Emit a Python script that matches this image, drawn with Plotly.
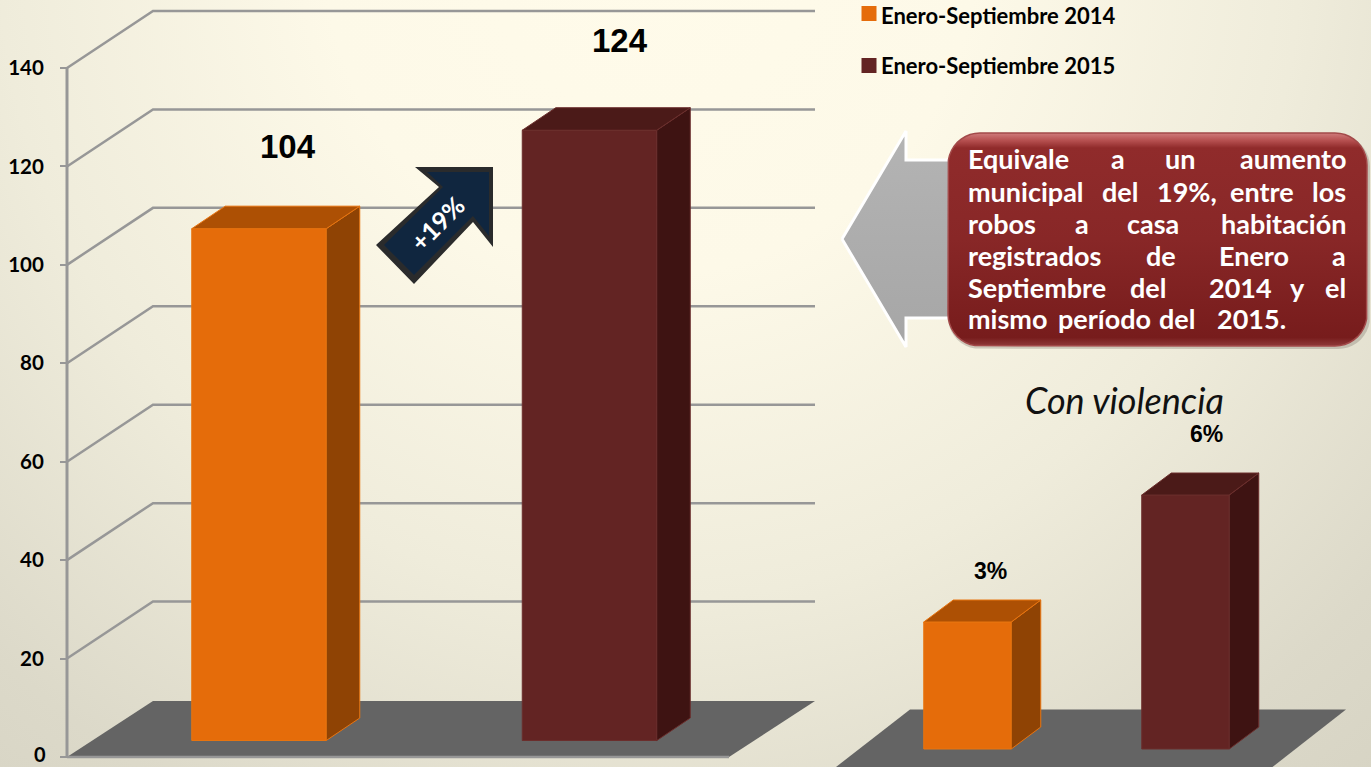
import math
import plotly.graph_objects as go

# ---- data ----
periodos = ["Enero-Septiembre 2014", "Enero-Septiembre 2015"]
robos = [104, 124]
violencia = [3, 6]
ticks_y = [0, 20, 40, 60, 80, 100, 120, 140]
titulo_chico = "Con violencia"
flecha_texto = "+19%"
callout = [
    [("Equivale", 966, "left"), ("a", 1109, "left"), ("un", 1163, "left"), ("aumento", 1348, "right")],
    [("municipal", 966, "left"), ("del", 1100, "left"), ("19%,", 1155, "left"), ("entre", 1228, "left"), ("los", 1348, "right")],
    [("robos", 966, "left"), ("a", 1073, "left"), ("casa", 1125, "left"), ("habitación", 1348, "right")],
    [("registrados", 966, "left"), ("de", 1144, "left"), ("Enero", 1217, "left"), ("a", 1348, "right")],
    [("Septiembre", 966, "left"), ("del", 1128, "left"), ("2014", 1207, "left"), ("y", 1288, "left"), ("el", 1348, "right")],
    [("mismo", 966, "left"), ("período", 1056, "left"), ("del", 1157, "left"), ("2015.", 1215, "left")],
]

# ---- styles ----
W, H = 1371, 767
ORANGE = ("#E56C0A", "#8F4304", "#AD5004", "#E8740F")
MAROON = ("#632423", "#3E1312", "#4B1A18", "#6B2E2C")
GRID = "#979797"
FLOOR = "#646464"
LATO = "Lato, Carlito, sans-serif"
ARIAL = "Liberation Sans, Arial, sans-serif"

# main chart scale: value -> pixel
M_PX = 98.43 / 20
m_range = [-10 / M_PX, 757 / M_PX]
M_STEP = 330.5
M_C0 = 259.0
m_x_range = [-M_C0 / M_STEP, (W - M_C0) / M_STEP]
def mx(px): return (px - M_C0) / M_STEP
M_WIDTH = 134.5 / M_STEP
M_BASE = 16.5 / M_PX
M_DX = 33.5 / M_STEP
M_DY = 22.5 / M_PX

# small chart scale
S_PX = 42.33
s_range = [-18 / S_PX, 749 / S_PX]
S_STEP = 218.0
S_C0 = 967.5
s_x_range = [-S_C0 / S_STEP, (W - S_C0) / S_STEP]
def sx(px): return (px - S_C0) / S_STEP
S_WIDTH = 87.5 / S_STEP
S_DX = 29.5 / S_STEP
S_DY = 22 / S_PX

fig = go.Figure()

def poly(xs, ys, xa, ya, color=None, line=None, lw=0, grad=None):
    kw = dict(x=list(xs) + [xs[0]], y=list(ys) + [ys[0]], xaxis=xa, yaxis=ya, mode="lines",
              fill="toself", hoverinfo="skip", showlegend=False,
              line=dict(color=line or "rgba(0,0,0,0)", width=lw))
    if grad:
        kw["fillgradient"] = grad
    else:
        kw["fillcolor"] = color
    fig.add_trace(go.Scatter(**kw))

def lines(xs, ys, xa, ya, color=GRID, lw=2.5):
    fig.add_trace(go.Scatter(x=xs, y=ys, xaxis=xa, yaxis=ya, mode="lines", hoverinfo="skip",
                             showlegend=False, line=dict(color=color, width=lw)))

# --- background (pixel subplot) ---
CX, CY, R = 650, -50, 1300
poly([CX - R, CX + R, CX + R, CX - R], [CY - R, CY - R, CY + R, CY + R], "x", "y",
     grad=dict(type="radial", colorscale=[[0, "#FFFBEA"], [0.25, "#FDF9E8"], [0.5, "#EFECDB"], [0.74, "#DCD9C9"], [1, "#D0CDBD"]]))

# --- main chart wall and floor ---
poly([mx(67), mx(153), mx(815), mx(729)], [0, 56 / M_PX, 56 / M_PX, 0], "x2", "y2", color=FLOOR)
for t in ticks_y:
    if t == 0:
        lines([mx(67), mx(729)], [0, 0], "x2", "y2")
        lines([mx(60), mx(67)], [t, t], "x2", "y2", lw=2)
        continue
    lines([mx(67), mx(153), mx(815)], [t, t + 57 / M_PX, t + 57 / M_PX], "x2", "y2")
lines([mx(67), mx(67)], [0, ticks_y[-1]], "x2", "y2", lw=3)

# --- main bars ---
for i, (name, v, c) in enumerate(zip(periodos, robos, (ORANGE, MAROON))):
    fig.add_trace(go.Bar(x=[i], y=[v], base=[M_BASE], width=M_WIDTH, name=name, xaxis="x3", yaxis="y3",
                         marker=dict(color=c[0], line=dict(color=c[3], width=1)), hoverinfo="skip", showlegend=False))
    l, r = i - M_WIDTH / 2, i + M_WIDTH / 2
    top = M_BASE + v
    poly([r, r + M_DX, r + M_DX, r], [M_BASE, M_BASE + M_DY, top + M_DY, top], "x3", "y3", color=c[1], line=c[3], lw=1)
    poly([l, r, r + M_DX, l + M_DX], [top, top, top + M_DY, top + M_DY], "x3", "y3", color=c[2], line=c[3], lw=1)

# --- small chart floor ---
poly([sx(836), sx(910), sx(1346), sx(1272.5)], [-18 / S_PX, 39.5 / S_PX, 39.5 / S_PX, -18 / S_PX], "x4", "y4", color=FLOOR)

# --- small bars ---
for i, (name, v, c) in enumerate(zip(periodos, violencia, (ORANGE, MAROON))):
    fig.add_trace(go.Bar(x=[i], y=[v], width=S_WIDTH, name=name, xaxis="x5", yaxis="y5",
                         marker=dict(color=c[0], line=dict(color=c[3], width=1)), hoverinfo="skip", showlegend=False))
    l, r = i - S_WIDTH / 2, i + S_WIDTH / 2
    poly([r, r + S_DX, r + S_DX, r], [0, S_DY, v + S_DY, v], "x5", "y5", color=c[1], line=c[3], lw=1)
    poly([l, r, r + S_DX, l + S_DX], [v, v, v + S_DY, v + S_DY], "x5", "y5", color=c[2], line=c[3], lw=1)

# --- overlays in pixel coordinates ---
# navy arrow
poly([376, 414, 473, 493, 493, 415, 439], [245, 284, 222, 247, 167, 167, 187], "x6", "y6", color="#2A2B2C")
poly([384, 414, 473, 489, 489, 427, 443], [245, 275, 216, 236, 172, 172, 187], "x6", "y6", color="#10263F")

# left arrow
poly([842, 906, 906, 975, 975, 906, 906], [239, 131, 160, 160, 318, 318, 347], "x6", "y6",
     line="#FFFFFF", lw=3,
     grad=dict(type="vertical", start=131, stop=347, colorscale=[[0, "#B4B4B4"], [1, "#A6A6A6"]]))

def rrect(x0, y0, x1, y1, r, n=10):
    xs, ys = [], []
    for cx, cy, a0 in ((x1 - r, y0 + r, -90), (x1 - r, y1 - r, 0), (x0 + r, y1 - r, 90), (x0 + r, y0 + r, 180)):
        for k in range(n + 1):
            a = math.radians(a0 + 90 * k / n)
            xs.append(cx + r * math.cos(a))
            ys.append(cy + r * math.sin(a))
    return xs, ys

# callout with shadow and bevel
xs, ys = rrect(948, 135, 1370, 349, 32)
poly(xs, ys, "x6", "y6", color="rgba(90,80,70,0.25)")
xs, ys = rrect(948, 133, 1367, 346, 32)
poly(xs, ys, "x6", "y6", line="#A34A4A", lw=1.5,
     grad=dict(type="vertical", start=133, stop=346,
               colorscale=[[0, "#D07C7C"], [0.035, "#B65050"], [0.07, "#902B2B"], [0.5, "#882727"], [0.96, "#771C1C"], [1, "#8F3A3A"]]))

# legend swatches
fig.add_trace(go.Scatter(x=[869, 869], y=[13.5, 65.5], xaxis="x6", yaxis="y6", mode="markers", hoverinfo="skip",
                         showlegend=False, marker=dict(symbol="square", size=15, color=[ORANGE[0], MAROON[0]], line=dict(width=0))))

# --- annotations ---
ann = []
def px_text(text, x, y, size, color="#000000", family=LATO, weight=700, anchor="center", style="normal", angle=0):
    ann.append(dict(text=text, x=x / W, y=1 - y / H, xref="paper", yref="paper", showarrow=False,
                    xanchor=anchor, yanchor="middle", textangle=angle,
                    font=dict(size=size, color=color, family=family, weight=weight, style=style)))

for i, v in enumerate(robos):
    ann.append(dict(text=str(v), x=[mx(288), mx(620)][i], y=M_BASE + v + [16.6, 18.2][i], xref="x3", yref="y3",
                    showarrow=False, xanchor="center", yanchor="middle",
                    font=dict(size=33, color="#000000", family=ARIAL, weight=700)))
for i, v in enumerate(violencia):
    ann.append(dict(text=f"{v}%", x=[sx(990.5), sx(1206)][i], y=v + [1.2, 1.43][i], xref="x5", yref="y5",
                    showarrow=False, xanchor="center", yanchor="middle",
                    font=dict(size=23, color="#000000", family=ARIAL, weight=700)))

for name, y in zip(periodos, (15, 66)):
    px_text(name, 879, y, 22, anchor="left")
px_text(titulo_chico, 1124, 400, 36, family=LATO, weight=400, style="italic", color="#111111")
px_text(flecha_texto, 437, 223, 25, color="#FFFFFF", angle=-45)
for row, y in zip(callout, (158, 191, 223, 255, 287, 319)):
    for word, x, a in row:
        px_text(word, x, y, 27, color="#FFFFFF", anchor=a)
# the axis drops its lowest label at the plot edge, so it is placed beside the same tick position
ann.append(dict(text=str(ticks_y[0]), x=mx(47), y=ticks_y[0], xref="x2", yref="y2", showarrow=False,
                xanchor="right", yanchor="middle", yshift=3, borderpad=0,
                font=dict(size=20, family=LATO, weight=700, color="#000000")))

# --- layout ---
hidden = dict(visible=False, showgrid=False, zeroline=False, fixedrange=True)
px_x = dict(hidden, range=[0, W], domain=[0, 1])
px_y = dict(hidden, range=[H, 0], domain=[0, 1])
fig.update_layout(
    width=W, height=H, margin=dict(l=0, r=0, t=0, b=0), showlegend=False,
    paper_bgcolor="#F5F2E2", plot_bgcolor="rgba(0,0,0,0)", barmode="overlay",
    annotations=ann,
    xaxis=dict(px_x), yaxis=dict(px_y),
    xaxis2=dict(hidden, range=m_x_range, domain=[0, 1], anchor="y2"),
    yaxis2=dict(range=m_range, domain=[0, 1], anchor="free", position=67 / W, showgrid=False, zeroline=False,
                showline=False, tickmode="array", tickvals=ticks_y[1:], ticktext=[str(t) for t in ticks_y[1:]],
                ticks="outside", ticklen=7, tickwidth=2, tickcolor=GRID, ticklabelstandoff=12, fixedrange=True,
                tickfont=dict(size=20.5, family=LATO, weight=700, color="#000000")),
    xaxis3=dict(hidden, range=m_x_range, domain=[0, 1], anchor="y3"),
    yaxis3=dict(hidden, range=m_range, domain=[0, 1], anchor="x3"),
    xaxis4=dict(hidden, range=s_x_range, domain=[0, 1], anchor="y4"),
    yaxis4=dict(hidden, range=s_range, domain=[0, 1], anchor="x4"),
    xaxis5=dict(hidden, range=s_x_range, domain=[0, 1], anchor="y5"),
    yaxis5=dict(hidden, range=s_range, domain=[0, 1], anchor="x5"),
    xaxis6=dict(px_x, anchor="y6"), yaxis6=dict(px_y, anchor="x6"),
)

fig.write_html("out.html", config={"displayModeBar": False},
               post_script="document.body.style.margin='0';document.body.style.overflow='hidden';")
